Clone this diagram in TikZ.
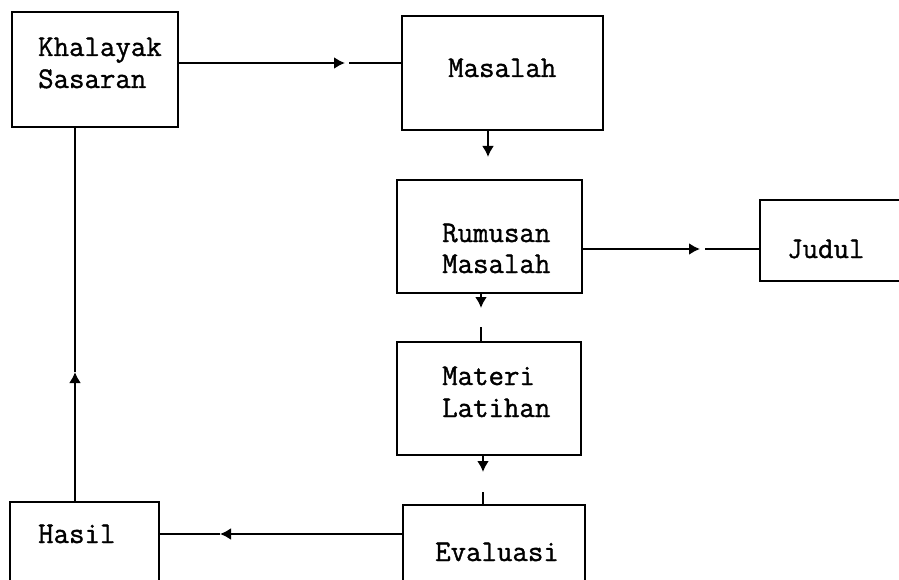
\documentclass[tikz,border=0pt]{standalone}
\usepackage{fontspec}
\newfontfamily\boxmono[FakeBold=1.2]{Latin Modern Mono}
\usetikzlibrary{arrows.meta}
\begin{document}
\begin{tikzpicture}[x=1pt,y=-1pt,
  box/.style={draw, line width=2.4pt, inner sep=0pt, rectangle},
  lbl/.style={anchor=base west, inner sep=0pt, font=\fontsize{30}{32}\selectfont\boxmono},
  conn/.style={line width=2.4pt},
  arr/.style={line width=2.4pt, -{Latex[length=11pt,width=12pt]}}]
\useasboundingbox (0,0) rectangle (899,580);
\clip (0,0) rectangle (899,580);
% boxes
\node[box, minimum width=166pt, minimum height=115pt] (khal) at (95,69.5) {};
\node[box, minimum width=201pt, minimum height=114pt] (mas) at (502.5,73) {};
\node[box, minimum width=185pt, minimum height=113pt] (rum) at (489.5,236.5) {};
\node[box, minimum width=170pt, minimum height=81pt] (jud) at (845,240.5) {};
\node[box, minimum width=184pt, minimum height=113pt] (mat) at (489,398.5) {};
\node[box, minimum width=182pt, minimum height=115pt] (eva) at (494,562.5) {};
\node[box, minimum width=149pt, minimum height=118pt] (has) at (84.5,561) {};
% texts
\node[lbl] (t1) at (38,56) {Khalayak};
\node[lbl] (t2) at (38,88) {Sasaran};
\node[lbl] (t3) at (448,77) {Masalah};
\node[lbl] (t4) at (442,242) {Rumusan};
\node[lbl] (t5) at (442,273) {Masalah};
\node[lbl] (t6) at (787,258) {Judul};
\node[lbl] (t7) at (442,385) {Materi};
\node[lbl] (t8) at (442,417) {Latihan};
\node[lbl] (t9) at (435,561) {Evaluasi};
\node[lbl] (t10) at (38,543) {Hasil};
% arrow tip coordinates
\coordinate (a1) at (345,63);
\coordinate (a2) at (488,157);
\coordinate (a3) at (700,249);
\coordinate (a4) at (481,308);
\coordinate (a5) at (483,472);
\coordinate (a6) at (220,534);
\coordinate (a7) at (75,372);
% connectors
\draw[arr] (khal.east |- a1) -- (a1);
\draw[conn] ([xshift=4pt]a1) -- (mas.west |- a1);
\draw[arr] (mas.south -| a2) -- (a2);
\draw[arr] (rum.east |- a3) -- (a3);
\draw[conn] ([xshift=5pt]a3) -- (jud.west |- a3);
\draw[arr] (rum.south -| a4) -- (a4);
\draw[conn] ([yshift=-19pt]a4) -- (mat.north -| a4);
\draw[arr] (mat.south -| a5) -- (a5);
\draw[conn] ([yshift=-20pt]a5) -- (eva.north -| a5);
\draw[arr] (eva.west |- a6) -- (a6);
\draw[conn] (a6) -- (has.east |- a6);
\draw[arr] (has.north -| a7) -- (a7);
\draw[conn] (a7) -- (khal.south -| a7);
\end{tikzpicture}
\end{document}
